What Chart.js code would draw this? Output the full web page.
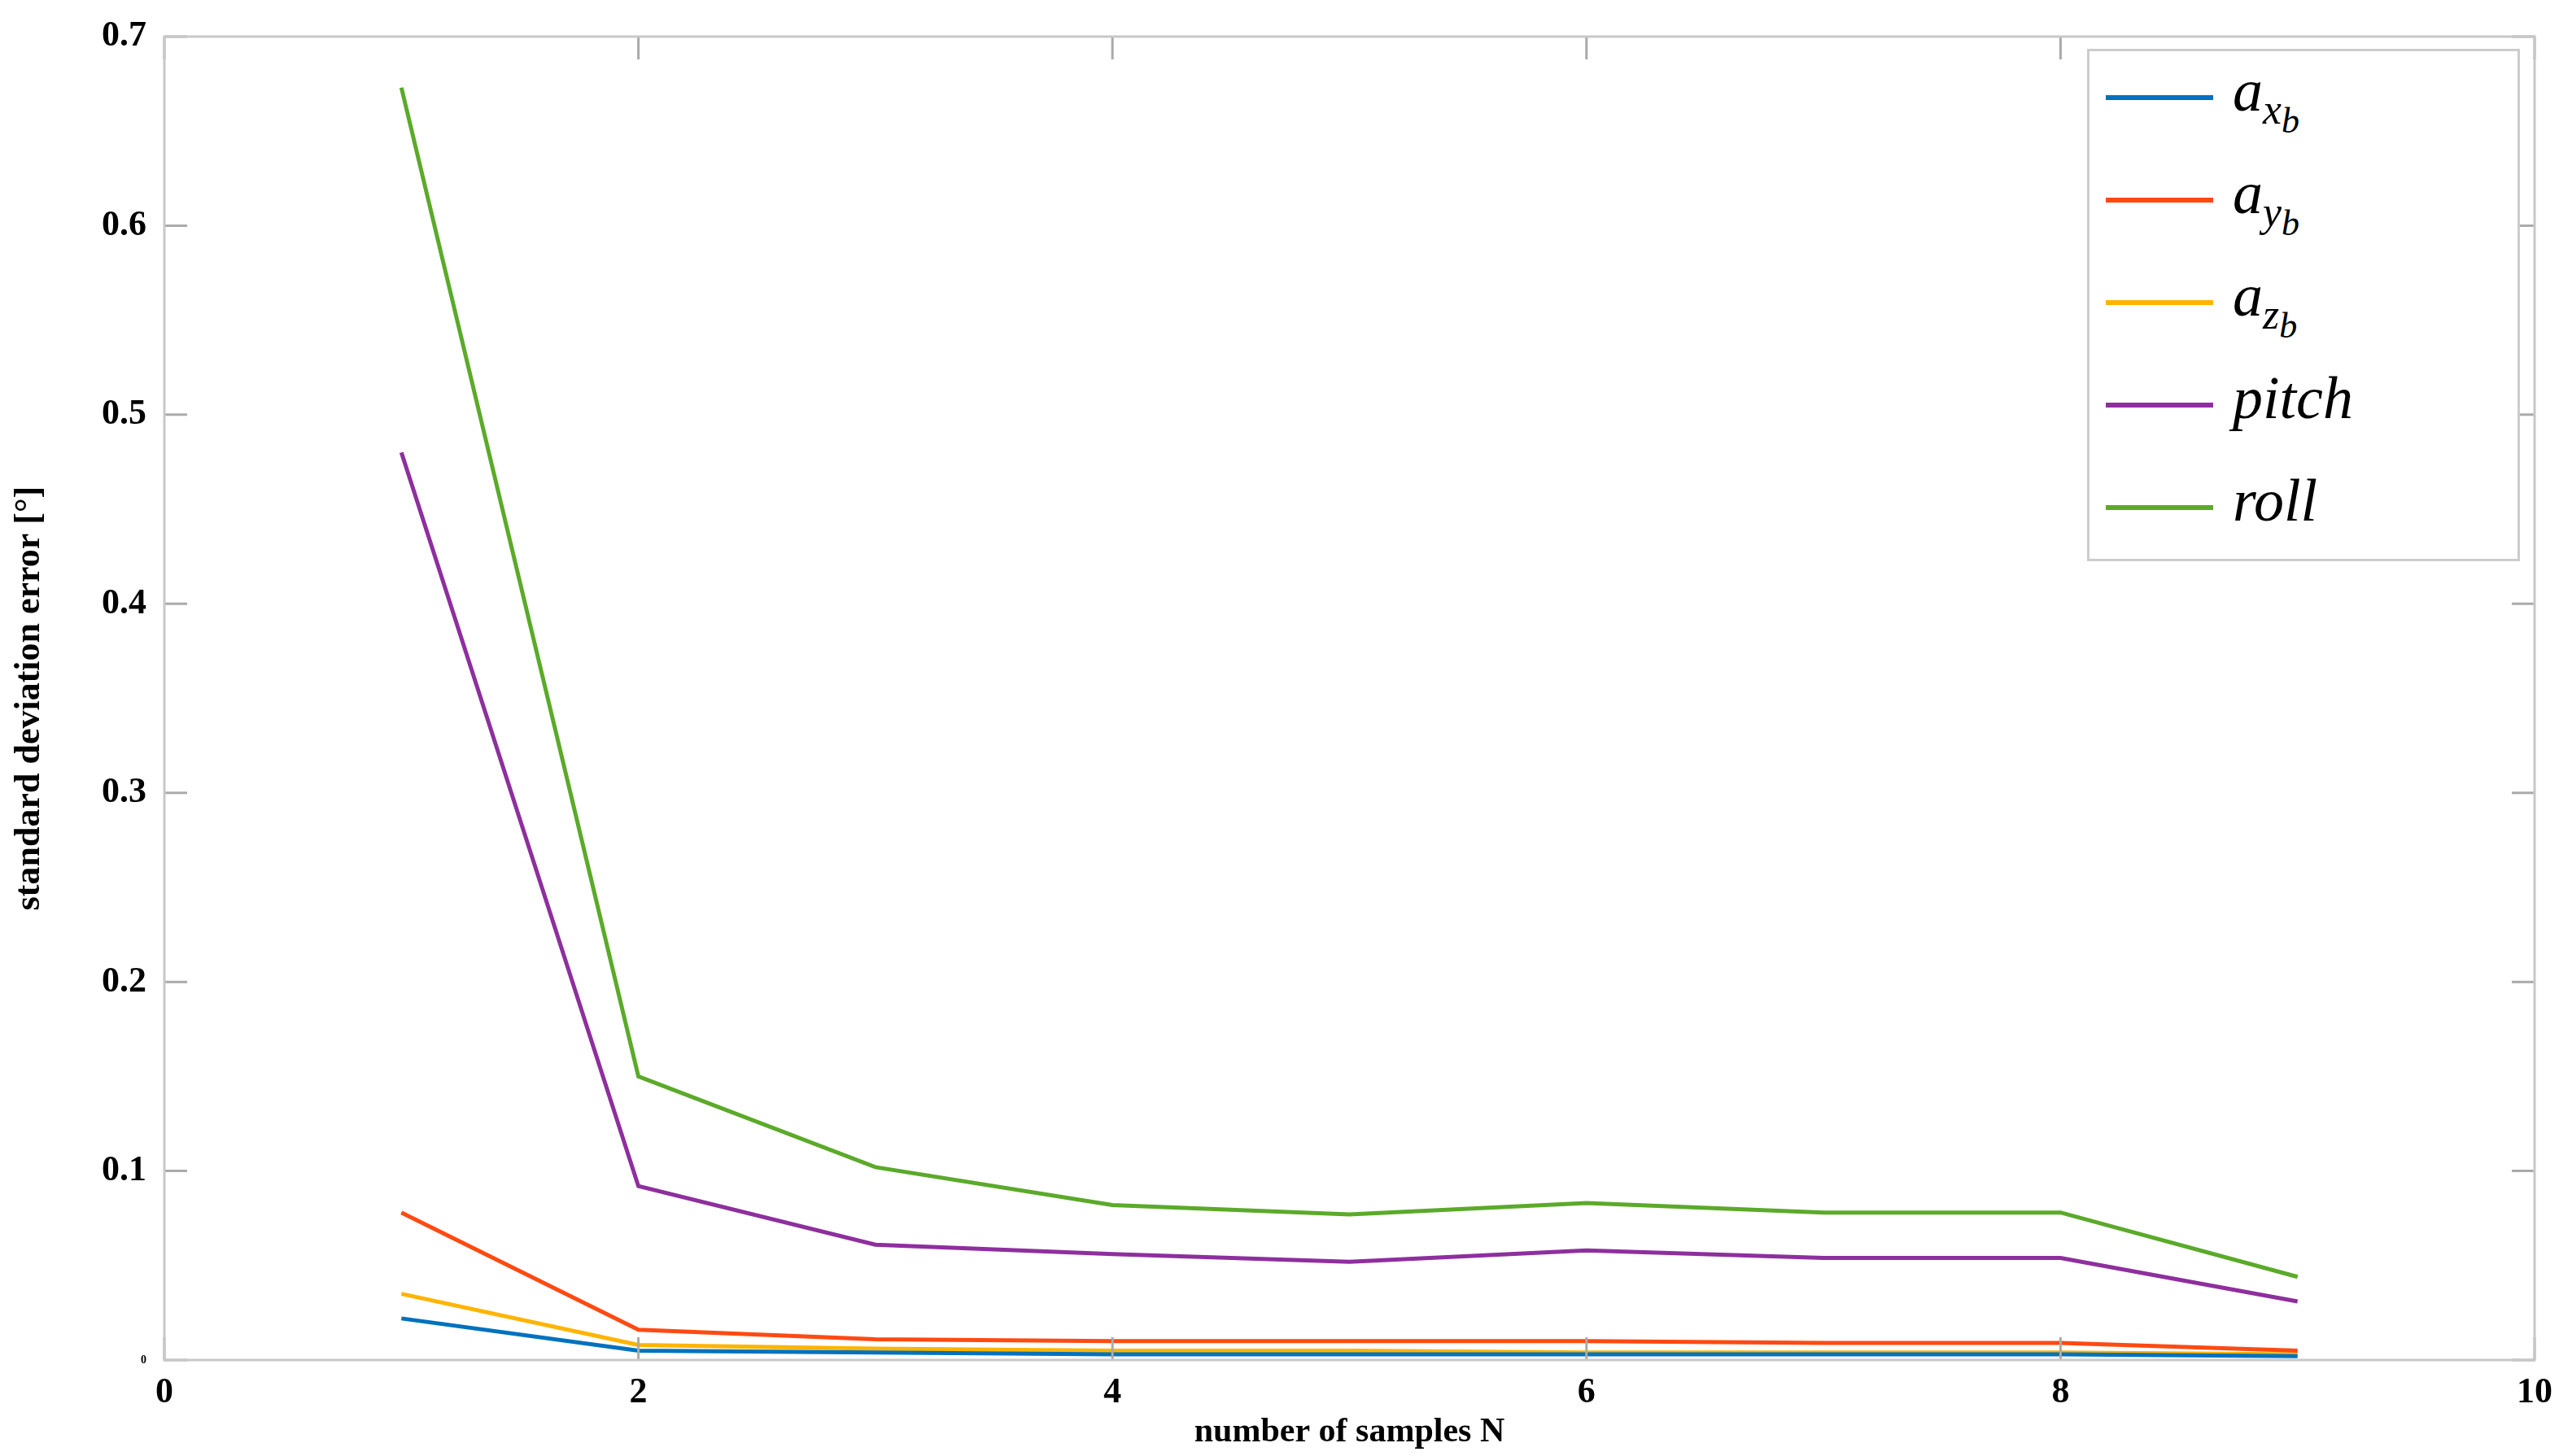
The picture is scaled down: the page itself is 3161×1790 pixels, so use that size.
<!DOCTYPE html>
<html><head><meta charset="utf-8">
<script src="https://cdn.jsdelivr.net/npm/chart.js@4.4.1/dist/chart.umd.min.js"></script>
<style>
html,body{margin:0;padding:0;background:#fff;}
#wrap{position:relative;width:3161px;height:1790px;}
#legend{position:absolute;left:2565px;top:60px;width:526px;height:624px;border:3px solid #ccc;background:#fff;font-family:"Liberation Serif","DejaVu Serif",serif;font-style:italic;}
.item{position:absolute;left:20px;height:60px;}
.item .ln{position:absolute;left:0;top:28px;width:132px;height:6px;}
.item .tx{position:absolute;left:156px;top:-18px;font-size:74px;white-space:nowrap;line-height:80px;}
.tx sub{font-size:0.7em;vertical-align:-0.3em;}
.tx sub sub{font-size:0.85em;vertical-align:-0.25em;}
</style></head>
<body><div id="wrap"><canvas id="c" width="3161" height="1790"></canvas><div id="legend"></div></div>
<script>
const samplesN = [1,2,3,4,5,6,7,8,9];
const axb   = [0.022,0.005,0.004,0.003,0.003,0.003,0.003,0.003,0.002];
const ayb   = [0.078,0.016,0.011,0.010,0.010,0.010,0.009,0.009,0.005];
const azb   = [0.035,0.008,0.006,0.005,0.005,0.004,0.004,0.004,0.003];
const pitch = [0.480,0.092,0.061,0.056,0.052,0.058,0.054,0.054,0.031];
const roll  = [0.673,0.150,0.102,0.082,0.077,0.083,0.078,0.078,0.044];
const xTicks = [0,2,4,6,8,10];
const yTicks = [0,0.1,0.2,0.3,0.4,0.5,0.6,0.7];
const seriesNames = ['a<sub>x<sub>b</sub></sub>','a<sub>y<sub>b</sub></sub>','a<sub>z<sub>b</sub></sub>','pitch','roll'];
const colors = ['#0072BD','#FF4A12','#FFB400','#8E2F9E','#5BAA2A'];
const allData = [axb,ayb,azb,pitch,roll];

const datasets = allData.map((d,i)=>({label:'s'+i,data:d.map((v,j)=>({x:samplesN[j],y:v})),borderColor:colors[i],borderWidth:5,pointRadius:0,fill:false,tension:0}));

const tickPlugin = {id:'inTicks',afterDraw(ch){
  const c=ch.ctx,a=ch.chartArea,xs=ch.scales.x,ys=ch.scales.y;
  c.save();c.strokeStyle='#aaa';c.lineWidth=3;
  xTicks.forEach(t=>{const p=xs.getPixelForValue(t);c.beginPath();c.moveTo(p,a.bottom);c.lineTo(p,a.bottom-28);c.moveTo(p,a.top);c.lineTo(p,a.top+28);c.stroke();});
  yTicks.forEach(t=>{const p=ys.getPixelForValue(t);c.beginPath();c.moveTo(a.left,p);c.lineTo(a.left+28,p);c.moveTo(a.right,p);c.lineTo(a.right-28,p);c.stroke();});
  c.strokeStyle='#c8c8c8';c.lineWidth=3;c.strokeRect(a.left,a.top,a.right-a.left,a.bottom-a.top);
  c.restore();
}};

new Chart(document.getElementById('c'),{
  type:'line',data:{datasets},
  options:{responsive:false,animation:false,
    layout:{padding:{top:45,right:46,left:0,bottom:0}},
    plugins:{legend:{display:false},tooltip:{enabled:false}},
    scales:{
      x:{type:'linear',min:0,max:10,
        afterBuildTicks:s=>{s.ticks=xTicks.map(v=>({value:v}));},
        afterFit:s=>{s.height=118;},
        grid:{display:false},border:{display:false},
        ticks:{color:'#000',padding:6,font:{family:'Liberation Serif',weight:'bold',size:44}},
        title:{display:true,text:'number of samples N',color:'#000',padding:{top:-26},font:{family:'Liberation Serif',weight:'bold',size:42}}},
      y:{min:0,max:0.7,
        afterBuildTicks:s=>{s.ticks=yTicks.map(v=>({value:v}));},
        afterFit:s=>{s.width=202;},
        grid:{display:false},border:{display:false},
        ticks:{color:'#000',padding:14,callback:v=>v===0?'0':v.toFixed(1),
          font:ctx=>({family:'Liberation Serif',weight:'bold',size:ctx.tick&&ctx.tick.value===0?14:44})},
        title:{display:true,text:'standard deviation error [°]',color:'#000',padding:{top:10,bottom:0},font:{family:'Liberation Serif',weight:'bold',size:44}}}
    }},
  plugins:[tickPlugin]
});

const lg=document.getElementById('legend');
const ys=[60,186,312,438,564];
seriesNames.forEach((n,i)=>{const d=document.createElement('div');d.className='item';d.style.top=(ys[i]-34)+'px';
  d.innerHTML='<div class="ln" style="background:'+colors[i]+'"></div><div class="tx">'+n+'</div>';lg.appendChild(d);});
</script></body></html>
